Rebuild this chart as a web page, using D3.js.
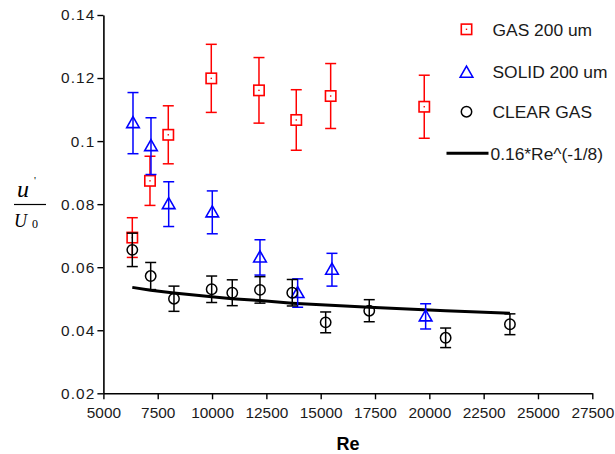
<!DOCTYPE html>
<html>
<head>
<meta charset="utf-8">
<script src="https://cdn.jsdelivr.net/npm/d3@7"></script>
<style>
  html, body { margin: 0; padding: 0; background: #fff; }
  svg { display: block; font-family: "Liberation Sans", Arial, sans-serif; }
</style>
</head>
<body>
<svg id="chart" width="615" height="454"></svg>
<script>
// Gas-phase particle-laden jet: turbulence intensity vs Reynolds number
const gasRe   = [6330, 7144, 7986, 9965, 12160, 13876, 15459, 19766];
const gasVal  = [0.0694, 0.0874, 0.1020, 0.1199, 0.1161, 0.1067, 0.1143, 0.1109];
const gasErr  = [0.0063, 0.0078, 0.0092, 0.0108, 0.0104, 0.0096, 0.0103, 0.0100];

const solidRe  = [6362, 7190, 8005, 10011, 12206, 13940, 15519, 19830];
const solidVal = [0.1057, 0.0984, 0.0800, 0.0774, 0.0631, 0.0518, 0.0592, 0.0444];
const solidErr = [0.0097, 0.0090, 0.0071, 0.0068, 0.0056, 0.0045, 0.0052, 0.0040];

const clearRe  = [6330, 7176, 8248, 9983, 10931, 12206, 13692, 15229, 17235, 20750, 23709];
const clearVal = [0.0655, 0.0572, 0.0500, 0.0530, 0.0519, 0.0528, 0.0519, 0.0425, 0.0462, 0.0376, 0.0419];
const clearErr = [0.0053, 0.0043, 0.0040, 0.0042, 0.0041, 0.0042, 0.0042, 0.0033, 0.0035, 0.0031, 0.0033];

// correlation curve 0.16*Re^(-1/8), sampled at the clear-gas Reynolds numbers
const fitRe  = [6330, 7176, 8248, 9983, 10931, 12206, 13692, 15229, 17235, 20750, 23709];
const fitVal = [0.0536, 0.0527, 0.0518, 0.0506, 0.0500, 0.0494, 0.0486, 0.0480, 0.0473, 0.0462, 0.0454];

const xTicks = [5000, 7500, 10000, 12500, 15000, 17500, 20000, 22500, 25000, 27500];
const yTicks = [0.02, 0.04, 0.06, 0.08, 0.10, 0.12, 0.14];
const yTickLabels = ["0.02", "0.04", "0.06", "0.08", "0.1", "0.12", "0.14"];

const legendLabels = ["GAS 200 um", "SOLID 200 um", "CLEAR GAS", "0.16*Re^(-1/8)"];

const svg = d3.select("#chart");
const plotLeft = 103.4, plotRight = 592.3, plotTop = 15, plotBottom = 393.3;

const x = d3.scaleLinear().domain([5000, 27500]).range([plotLeft, plotRight]);
const y = d3.scaleLinear().domain([0.02, 0.14]).range([plotBottom, plotTop]);

// axes
const xAxis = svg.append("g")
  .attr("transform", `translate(0,${plotBottom})`)
  .call(d3.axisBottom(x).tickValues(xTicks).tickFormat(d3.format("d"))
        .tickSize(6).tickSizeOuter(0).tickPadding(7.5));
const yAxis = svg.append("g")
  .attr("transform", `translate(${plotLeft},0)`)
  .call(d3.axisLeft(y).tickValues(yTicks).tickFormat((d, i) => yTickLabels[i])
        .tickSize(6).tickSizeOuter(0).tickPadding(2));

[xAxis, yAxis].forEach(g => {
  g.select(".domain").attr("stroke", "#000").attr("stroke-width", 1.6);
  g.selectAll(".tick line").attr("stroke", "#000").attr("stroke-width", 1.4);
  g.selectAll(".tick text").attr("fill", "#1a1a1a")
    .style("font-size", "15.4px").style("font-family", "'Liberation Sans', Arial, sans-serif");
});
yAxis.selectAll(".tick text").style("letter-spacing", "1.1px");

// axis titles
svg.append("text")
  .attr("x", 348).attr("y", 450)
  .attr("text-anchor", "middle")
  .style("font-size", "18px").style("font-weight", "bold")
  .text("Re");

const yl = svg.append("g").style("font-family", "'Liberation Serif', 'Times New Roman', serif")
  .style("font-style", "italic");
yl.append("text").attr("x", 17).attr("y", 197).style("font-size", "24px").text("u");
yl.append("text").attr("x", 34).attr("y", 184).style("font-size", "11px").style("font-style", "normal").text("'");
yl.append("line").attr("x1", 14).attr("x2", 46).attr("y1", 204.5).attr("y2", 204.5)
  .attr("stroke", "#000").attr("stroke-width", 1.2);
yl.append("text").attr("x", 14).attr("y", 226.5).style("font-size", "18px").text("U");
yl.append("text").attr("x", 32).attr("y", 227.5).style("font-size", "12px").style("font-style", "normal").text("0");

// fitted correlation
const line = d3.line().x((d, i) => x(fitRe[i])).y(d => y(d));
svg.append("path").datum(fitVal)
  .attr("d", line).attr("fill", "none")
  .attr("stroke", "#000").attr("stroke-width", 3);

// error bars and markers
function series(re, val, err, color, shape) {
  const g = svg.append("g");
  const pts = val.map((v, i) => ({ x: x(re[i]), v, lo: v - err[i], hi: v + err[i] }));
  const cap = 5.5;
  const eb = g.selectAll(".eb").data(pts).enter().append("g")
    .attr("stroke", color).attr("stroke-width", 1.5).attr("fill", "none");
  eb.append("line").attr("x1", d => d.x).attr("x2", d => d.x)
    .attr("y1", d => y(d.hi)).attr("y2", d => y(d.lo));
  eb.append("line").attr("x1", d => d.x - cap).attr("x2", d => d.x + cap)
    .attr("y1", d => y(d.hi)).attr("y2", d => y(d.hi));
  eb.append("line").attr("x1", d => d.x - cap).attr("x2", d => d.x + cap)
    .attr("y1", d => y(d.lo)).attr("y2", d => y(d.lo));
  drawMarkers(g, pts.map(d => [d.x, y(d.v)]), color, shape);
}

function drawMarkers(g, xy, color, shape) {
  const m = g.selectAll(".m").data(xy).enter();
  if (shape === "square") {
    m.append("rect").attr("x", d => d[0] - 5.2).attr("y", d => d[1] - 5.2)
      .attr("width", 10.4).attr("height", 10.4)
      .attr("fill", "#fff").attr("stroke", color).attr("stroke-width", 1.6);
    m.append("rect").attr("x", d => d[0] - 0.7).attr("y", d => d[1] - 0.7)
      .attr("width", 1.4).attr("height", 1.4).attr("fill", color);
  } else if (shape === "triangle") {
    m.append("path")
      .attr("d", d => `M${d[0]},${d[1] - 6.5}L${d[0] + 6.3},${d[1] + 4.5}L${d[0] - 6.3},${d[1] + 4.5}Z`)
      .attr("fill", "none").attr("stroke", color).attr("stroke-width", 1.6);
  } else {
    m.append("circle").attr("cx", d => d[0]).attr("cy", d => d[1]).attr("r", 5.2)
      .attr("fill", "none").attr("stroke", color).attr("stroke-width", 1.5);
  }
}

series(gasRe, gasVal, gasErr, "#ff0000", "square");
series(solidRe, solidVal, solidErr, "#0000ff", "triangle");
series(clearRe, clearVal, clearErr, "#000000", "circle");

// legend
const lg = svg.append("g");
const lx = 466.5, tx = 492.5;
const rows = [29.3, 71.7, 111.7, 153.3];
drawMarkers(lg.append("g"), [[lx, rows[0]]], "#ff0000", "square");
drawMarkers(lg.append("g"), [[lx, rows[1] + 1]], "#0000ff", "triangle");
drawMarkers(lg.append("g"), [[lx, rows[2]]], "#000000", "circle");
lg.append("line").attr("x1", 446.5).attr("x2", 488.5).attr("y1", rows[3]).attr("y2", rows[3])
  .attr("stroke", "#000").attr("stroke-width", 3);
legendLabels.forEach((t, i) => {
  lg.append("text").attr("x", i === 3 ? 490.5 : tx).attr("y", rows[i] + 6.2)
    .style("font-size", "17.4px").attr("fill", "#1a1a1a").text(t);
});
</script>
</body>
</html>
